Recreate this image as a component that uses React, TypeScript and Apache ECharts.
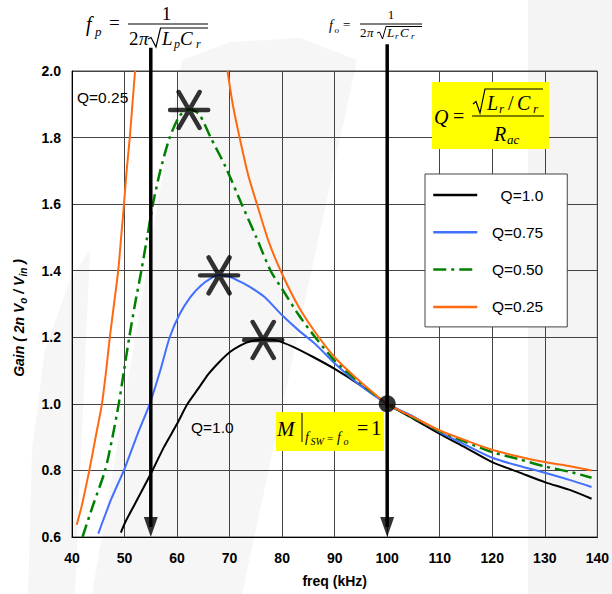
import React, { useEffect, useRef } from 'react';
import * as echarts from 'echarts';

// ---- data ----
const q100Freq = [49.3, 50, 52, 55, 57.5, 60, 62, 64, 66, 68, 70, 72, 74, 76.5, 79, 82, 86, 90, 95, 100, 105, 110, 115, 120, 125, 130, 135, 138.9];
const q100Gain = [0.613, 0.64, 0.70, 0.79, 0.87, 0.94, 1.0, 1.045, 1.09, 1.125, 1.155, 1.175, 1.188, 1.193, 1.19, 1.172, 1.14, 1.105, 1.055, 1.0, 0.955, 0.91, 0.868, 0.825, 0.795, 0.765, 0.74, 0.715];

const q75Freq = [45, 47.5, 50, 52.5, 54.8, 56.8, 58.6, 60.5, 62.5, 64.5, 66.5, 68, 70, 72, 74, 76.7, 80, 83.2, 86.3, 90, 94.3, 100, 105, 110, 115, 120, 125, 130, 135, 138.9];
const q75Gain = [0.61, 0.715, 0.805, 0.91, 1.0, 1.1, 1.2, 1.27, 1.32, 1.355, 1.378, 1.387, 1.382, 1.367, 1.35, 1.32, 1.266, 1.22, 1.18, 1.122, 1.063, 1.0, 0.962, 0.915, 0.876, 0.838, 0.814, 0.793, 0.77, 0.75];

const q50Freq = [42, 44.1, 46.3, 47.7, 48.9, 49.9, 50.9, 52, 53.2, 54.3, 55.4, 56.8, 58.6, 60.5, 62.3, 64.2, 66.4, 69.2, 72.3, 75.1, 77.8, 80, 83.2, 86.3, 90, 94.3, 100, 105, 110, 115, 120, 125, 130, 135, 138.9];
const q50Gain = [0.6, 0.7, 0.8, 0.9, 1.0, 1.1, 1.2, 1.3, 1.4, 1.5, 1.6, 1.7, 1.8, 1.865, 1.885, 1.87, 1.8, 1.713, 1.6, 1.5, 1.4, 1.345, 1.266, 1.2, 1.13, 1.07, 1.0, 0.958, 0.918, 0.885, 0.855, 0.834, 0.812, 0.795, 0.778];

const q25LowFreq = [40.9, 41.8, 42.5, 43.3, 44.5, 45.7, 46.5, 47.2, 48, 48.8, 49.35, 49.9, 50.4, 51, 51.5, 52];
const q25LowGain = [0.637, 0.69, 0.74, 0.8, 0.9, 1.0, 1.1, 1.2, 1.3, 1.4, 1.5, 1.6, 1.7, 1.8, 1.9, 2.0];
const q25HighFreq = [69.6, 70.6, 71.9, 73.5, 75.3, 77.5, 80, 83.2, 86.3, 90, 94.3, 100, 105, 110, 115, 120, 125, 130, 135, 138.9];
const q25HighGain = [2.0, 1.9, 1.8, 1.69, 1.595, 1.485, 1.39, 1.29, 1.215, 1.14, 1.075, 1.0, 0.96, 0.92, 0.89, 0.862, 0.842, 0.825, 0.812, 0.8];

const starFreq = [62.3, 68.0, 76.4];
const starGain = [1.883, 1.386, 1.192];

const arrowFreq = [55, 100];
const arrowTop = [2.07, 2.08];
const arrowBase = 0.6;

const unityFreq = [100];
const unityGain = [1.0];

const seriesNames = ['Q=1.0', 'Q=0.75', 'Q=0.50', 'Q=0.25'];
const seriesColors = ['#000000', '#4170ff', '#008000', '#ff6a10'];

const zip = (xs: number[], ys: number[]) => xs.map((x, i) => [x, ys[i]]);

const sans = "'Liberation Sans', Arial, sans-serif";
const serif = "'Liberation Serif', 'Times New Roman', serif";

function tx(text: string, x: number, y: number, size: number, italic = true, align = 'left') {
  return {
    type: 'text', x, y, z: 100,
    style: { text, fontFamily: serif, fontSize: size, fontStyle: italic ? 'italic' : 'normal', fill: '#000', align, verticalAlign: 'middle' },
  };
}
function ln(x1: number, y1: number, x2: number, y2: number, w = 1.2) {
  return { type: 'line', z: 100, shape: { x1, y1, x2, y2 }, style: { stroke: '#000', lineWidth: w } };
}
function pl(points: number[][], w = 1.2) {
  return { type: 'polyline', z: 100, shape: { points }, style: { stroke: '#000', lineWidth: w, fill: null } };
}

export default function App() {
  const ref = useRef<HTMLDivElement>(null);
  useEffect(() => {
    const chart = echarts.init(ref.current as HTMLDivElement, null, { renderer: 'svg' });

    const q25Data: any[] = [...zip(q25LowFreq, q25LowGain), [60, '-'], ...zip(q25HighFreq, q25HighGain)];

    const starPath = 'path://M0,18 L38,18 M8.5,0 L29.5,36 M29.5,0 L8.5,36';

    const series: any[] = [
      {
        name: seriesNames[0], type: 'line', data: zip(q100Freq, q100Gain), smooth: 0.25, showSymbol: false, symbol: 'none',
        lineStyle: { color: seriesColors[0], width: 2 }, itemStyle: { color: seriesColors[0] }, z: 3,
      },
      {
        name: seriesNames[1], type: 'line', data: zip(q75Freq, q75Gain), smooth: 0.25, showSymbol: false, symbol: 'none',
        lineStyle: { color: seriesColors[1], width: 2 }, itemStyle: { color: seriesColors[1] }, z: 3,
      },
      {
        name: seriesNames[2], type: 'line', data: zip(q50Freq, q50Gain), smooth: 0.25, showSymbol: false, symbol: 'none',
        lineStyle: { color: seriesColors[2], width: 2.5, type: [13, 5, 3, 5] }, itemStyle: { color: seriesColors[2] }, z: 3,
      },
      {
        name: seriesNames[3], type: 'line', data: q25Data, smooth: 0.25, showSymbol: false, symbol: 'none', connectNulls: false,
        lineStyle: { color: seriesColors[3], width: 2 }, itemStyle: { color: seriesColors[3] }, z: 3,
      },
    ];

    arrowFreq.forEach((f, i) => {
      series.push({
        name: 'arrow' + i, type: 'line', data: [[f, arrowTop[i]], [f, arrowBase + 0.03]], clip: false, silent: true,
        showSymbol: false, symbol: 'none', lineStyle: { color: '#000', width: 3.5 }, z: 6,
      });
      series.push({
        name: 'arrowhead' + i, type: 'scatter', data: [[f, arrowBase]], silent: true, clip: false,
        symbol: 'path://M0,0 L14,0 L7,20 Z', symbolSize: [14, 20], symbolOffset: [0, -10],
        itemStyle: { color: '#000' }, z: 6,
      });
    });

    series.push({
      name: 'stars', type: 'scatter', data: zip(starFreq, starGain), silent: true,
      symbol: starPath, symbolSize: [38, 36],
      itemStyle: { color: 'transparent', borderColor: '#000', borderWidth: 4.5, borderCap: 'round' }, z: 7,
    });
    series.push({
      name: 'unity', type: 'scatter', data: zip(unityFreq, unityGain), silent: true,
      symbol: 'circle', symbolSize: 17, itemStyle: { color: '#000' }, z: 7,
    });

    const graphic: any[] = [
      // faint watermark background
      { type: 'rect', z: -10, shape: { x: 528, y: 0, width: 84, height: 594 }, style: { fill: '#f4f4f4' } },
      { type: 'polygon', z: -10, shape: { points: [[92, 594], [182, 60], [230, 42], [300, 38], [357, 60], [242, 594]] }, style: { fill: '#f6f6f6' } },
      { type: 'polygon', z: -10, shape: { points: [[28, 594], [32, 450], [45, 350], [70, 280], [90, 250], [75, 594]] }, style: { fill: '#f6f6f6' } },

      // f_p formula
      tx('f', 86, 24, 20), tx('p', 95, 31, 13), tx('=', 109, 22, 19, false),
      tx('1', 166.5, 13.5, 19, false, 'center'),
      ln(128, 24, 208, 24),
      tx('2', 129, 38.5, 19, false), tx('π', 139, 38.5, 19),
      pl([[148, 39], [151, 37.5], [156, 47], [160.5, 28], [208, 28]]),
      tx('L', 162, 38.5, 19), tx('p', 174, 44, 12), tx('C', 180, 38.5, 19), tx('r', 196, 44, 12),

      // f_o formula
      tx('f', 329, 25.5, 14), tx('o', 334.5, 29.5, 9), tx('=', 343, 24, 13, false),
      tx('1', 391, 14.5, 13, false, 'center'),
      ln(360, 24, 422, 24, 1),
      tx('2', 360, 32.5, 13, false), tx('π', 367, 32.5, 13),
      pl([[377, 33], [379.5, 32], [382.5, 39], [386, 26.5], [422, 26.5]], 1),
      tx('L', 387, 32.5, 13), tx('r', 395, 36, 9), tx('C', 400, 32.5, 13), tx('r', 411, 36, 9),

      // Q definition box
      { type: 'rect', z: 90, shape: { x: 432, y: 82, width: 117, height: 67 }, style: { fill: '#ffff00' } },
      tx('Q', 434, 117, 20), tx('=', 453, 116, 20, false),
      ln(472, 116, 544, 116),
      pl([[473, 104], [476, 101.5], [480, 113], [485, 89], [543, 89]]),
      tx('L', 487, 103, 20), tx('r', 499, 108, 13), tx('/', 508, 103, 20, false), tx('C', 517, 103, 20), tx('r', 533, 108, 13),
      tx('R', 494, 134, 20), tx('ac', 507, 139, 13),

      // M = 1 box
      { type: 'rect', z: 90, shape: { x: 276, y: 412, width: 108, height: 39 }, style: { fill: '#ffff00' } },
      tx('M', 277, 428.5, 21),
      ln(302, 413, 302, 442, 1),
      tx('f', 305, 437, 14), tx('SW', 310.5, 441, 10), tx('=', 327, 438, 11, false), tx('f', 337, 437, 14), tx('o', 343.5, 441, 10),
      tx('=', 357, 427.5, 20, false), tx('1', 371, 428, 21, false),

      // curve labels
      { type: 'text', z: 100, x: 77, y: 97.5, style: { text: 'Q=0.25', fontFamily: sans, fontSize: 15.5, fill: '#000', align: 'left', verticalAlign: 'middle' } },
      { type: 'text', z: 100, x: 191, y: 427.5, style: { text: 'Q=1.0', fontFamily: sans, fontSize: 15.5, fill: '#000', align: 'left', verticalAlign: 'middle' } },

      // y-axis title
      {
        type: 'text', z: 100, x: 19, y: 318, rotation: Math.PI / 2,
        style: {
          text: '{a|Gain ( 2n V}{s|o}{a| / V}{s|in}{a| )}',
          fontFamily: sans, fontSize: 14, fontWeight: 'bold', fontStyle: 'italic', fill: '#000',
          align: 'center', verticalAlign: 'middle',
          rich: {
            a: { fontFamily: sans, fontSize: 14, fontWeight: 'bold', fontStyle: 'italic', lineHeight: 18, fill: '#000' },
            s: { fontFamily: sans, fontSize: 10, fontWeight: 'bold', fontStyle: 'italic', lineHeight: 10, verticalAlign: 'bottom', fill: '#000' },
          },
        },
      },
    ];

    const option: any = {
      animation: false,
      backgroundColor: '#ffffff',
      grid: { left: 72, right: 10, top: 71, bottom: 57, show: true, borderColor: '#444', borderWidth: 1, backgroundColor: 'transparent' },
      legend: {
        show: true, left: 425, top: 174, orient: 'vertical',
        padding: [13, 24, 12, 7], itemWidth: 44, itemHeight: 18, itemGap: 21.3,
        backgroundColor: '#ffffff', borderColor: '#444', borderWidth: 1, borderRadius: 0,
        selectedMode: false, data: seriesNames,
        itemStyle: { opacity: 0, color: 'transparent', borderWidth: 0 },
        lineStyle: { width: 2.5 },
        formatter: (name: string) => `{r|${name}}`,
        textStyle: {
          fontFamily: sans, fontSize: 15.5, color: '#000',
          rich: { r: { width: 61, align: 'right', fontFamily: sans, fontSize: 15.5, color: '#000' } },
        },
        z: 20,
      },
      xAxis: {
        type: 'value', min: 40, max: 140, interval: 10,
        name: 'freq (kHz)', nameLocation: 'middle', nameGap: 37,
        nameTextStyle: { fontFamily: sans, fontSize: 14, fontWeight: 'bold', color: '#000' },
        axisLine: { show: true, lineStyle: { color: '#000', width: 1 } },
        axisTick: { show: false },
        axisLabel: { fontFamily: sans, fontSize: 14, fontWeight: 'bold', color: '#000', margin: 14 },
        splitLine: { show: true, lineStyle: { color: '#444', width: 1 } },
      },
      yAxis: {
        type: 'value', min: 0.6, max: 2.0, interval: 0.2,
        axisLine: { show: true, lineStyle: { color: '#000', width: 1 } },
        axisTick: { show: false },
        axisLabel: { fontFamily: sans, fontSize: 14, fontWeight: 'bold', color: '#000', margin: 11, formatter: (v: number) => v.toFixed(1) },
        splitLine: { show: true, lineStyle: { color: '#444', width: 1 } },
      },
      graphic,
      series,
    };

    chart.setOption(option);
    return () => chart.dispose();
  }, []);

  return (
    <div
      ref={ref}
      style={{ position: 'fixed', left: 0, top: 0, width: 612, height: 594, background: '#fff' }}
    />
  );
}
